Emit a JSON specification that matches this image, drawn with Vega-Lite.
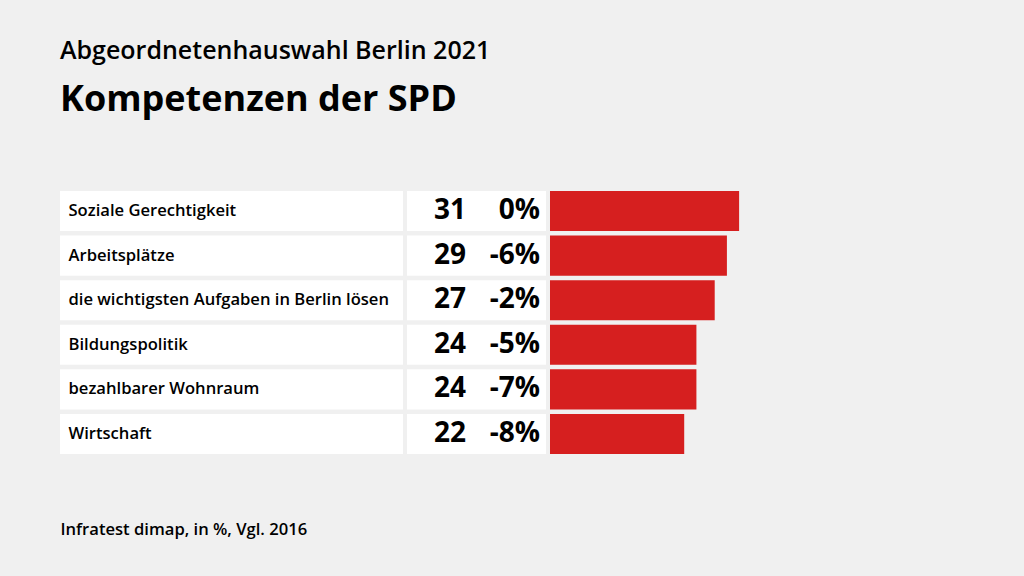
{
  "$schema": "https://vega.github.io/schema/vega-lite/v6.json",
  "background": "#f0f0f0",
  "padding": {"left": 60, "top": 39, "right": 0, "bottom": 40},
  "title": {
    "text": "Abgeordnetenhauswahl Berlin 2021",
    "subtitle": "Kompetenzen der SPD",
    "anchor": "start",
    "font": "Open Sans",
    "fontSize": 25,
    "fontWeight": 600,
    "color": "#000000",
    "subtitleFont": "Open Sans",
    "subtitleFontSize": 36,
    "subtitleFontWeight": 700,
    "subtitleColor": "#000000",
    "subtitlePadding": 19,
    "offset": 73
  },
  "data": {
    "values": [
      {"label": "Soziale Gerechtigkeit", "value": 31, "diff": 0},
      {"label": "Arbeitsplätze", "value": 29, "diff": -6},
      {"label": "die wichtigsten Aufgaben in Berlin lösen", "value": 27, "diff": -2},
      {"label": "Bildungspolitik", "value": 24, "diff": -5},
      {"label": "bezahlbarer Wohnraum", "value": 24, "diff": -7},
      {"label": "Wirtschaft", "value": 22, "diff": -8}
    ]
  },
  "spacing": 4,
  "config": {"view": {"stroke": null}, "font": "Open Sans"},
  "hconcat": [
    {
      "width": 343,
      "height": 263,
      "mark": {"type": "bar", "color": "#ffffff"},
      "encoding": {
        "y": {
          "field": "label",
          "type": "nominal",
          "sort": null,
          "scale": {"paddingInner": 0.1, "paddingOuter": 0},
          "axis": {
            "title": null,
            "ticks": false,
            "domain": false,
            "zindex": 1,
            "labelAlign": "left",
            "labelPadding": -8,
            "labelFont": "Open Sans",
            "labelFontSize": 16.6,
            "labelFontWeight": 600,
            "labelColor": "#000000",
            "labelLimit": 340
          }
        },
        "x": {
          "datum": 1,
          "type": "quantitative",
          "scale": {"domain": [0, 1]},
          "axis": {
            "labels": false,
            "ticks": false,
            "domain": false,
            "grid": false,
            "title": "Infratest dimap, in %, Vgl. 2016",
            "titleAnchor": "start",
            "titleAlign": "left",
            "titleX": 0,
            "titleY": 80,
            "titleBaseline": "alphabetic",
            "titleFont": "Open Sans",
            "titleFontSize": 16.6,
            "titleFontWeight": 600,
            "titleColor": "#000000"
          }
        }
      }
    },
    {
      "width": 139,
      "height": 263,
      "transform": [{"calculate": "datum.diff + '%'", "as": "diffText"}],
      "encoding": {
        "y": {
          "field": "label",
          "type": "nominal",
          "sort": null,
          "scale": {"paddingInner": 0.1, "paddingOuter": 0},
          "axis": null
        }
      },
      "layer": [
        {"mark": {"type": "bar", "color": "#ffffff"}},
        {
          "mark": {"type": "text", "align": "right", "baseline": "middle", "fontSize": 28, "fontWeight": "bold", "color": "#000000", "font": "Open Sans"},
          "encoding": {"x": {"value": 59}, "text": {"field": "value", "type": "quantitative"}}
        },
        {
          "mark": {"type": "text", "align": "right", "baseline": "middle", "fontSize": 28, "fontWeight": "bold", "color": "#000000", "font": "Open Sans"},
          "encoding": {"x": {"value": 133}, "text": {"field": "diffText", "type": "nominal"}}
        }
      ]
    },
    {
      "width": 474,
      "height": 263,
      "mark": {"type": "bar", "color": "#d61f1f"},
      "encoding": {
        "y": {
          "field": "label",
          "type": "nominal",
          "sort": null,
          "scale": {"paddingInner": 0.1, "paddingOuter": 0},
          "axis": null
        },
        "x": {
          "field": "value",
          "type": "quantitative",
          "scale": {"domain": [0, 77.7]},
          "axis": null
        }
      }
    }
  ]
}
